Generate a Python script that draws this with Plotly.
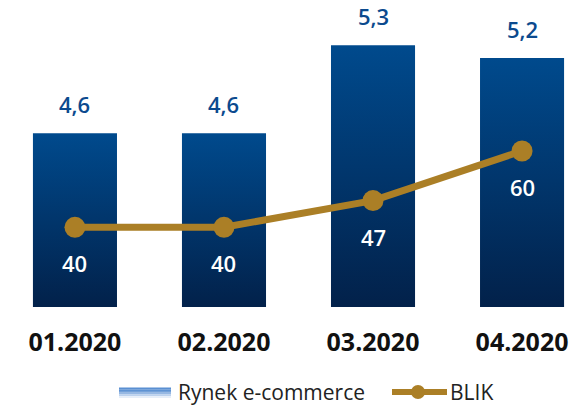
import plotly.graph_objects as go

categories = ["01.2020", "02.2020", "03.2020", "04.2020"]
ecommerce = [4.6, 4.6, 5.3, 5.2]
ecommerce_labels = ["4,6", "4,6", "5,3", "5,2"]
blik = [40, 40, 47, 60]

W, H = 583, 410
ML, MR, MT, MB = 0, 0, 0, 103
PW, PH = W - ML - MR, H - MT - MB

y1_range = [3.217, 5.661]
y2_range = [19.11, 99.58]
x_range = [-0.503, 3.409]
bar_w = 0.564

bar_top = "#004a8d"
bar_bottom = "#02214a"
gold = "#ab7f26"
label_blue = "#0b4a8e"
font_main = "Open Sans"


def px_x(p):
    return (p - ML) / PW


def px_y(p):
    return (H - MB - p) / PH


fig = go.Figure()

# bars as gradient-filled areas built from the data
for i, v in enumerate(ecommerce):
    b = y1_range[0]
    fig.add_trace(go.Scatter(
        x=[i - bar_w / 2, i + bar_w / 2, i + bar_w / 2, i - bar_w / 2, i - bar_w / 2],
        y=[b, b, v, v, b],
        mode="lines", line=dict(width=0), fill="toself",
        fillgradient=dict(type="vertical", colorscale=[[0, bar_bottom], [1, bar_top]]),
        showlegend=False, hoverinfo="skip", yaxis="y",
    ))

fig.add_trace(go.Scatter(
    x=list(range(len(categories))), y=blik, mode="lines+markers",
    line=dict(color=gold, width=7), marker=dict(size=21, color=gold),
    yaxis="y2", showlegend=False, name="BLIK",
))

annotations = []
for i, (v, t) in enumerate(zip(ecommerce, ecommerce_labels)):
    annotations.append(dict(x=i, y=v, xref="x", yref="y", text=t, showarrow=False,
                            yanchor="middle", yshift=29,
                            font=dict(family=font_main, size=22, color=label_blue, weight=600)))
for i, v in enumerate(blik):
    annotations.append(dict(x=i, y=v, xref="x", yref="y2", text=str(v), showarrow=False,
                            yanchor="middle", yshift=-36,
                            font=dict(family=font_main, size=22, color="white", weight=600)))

# legend (drawn manually)
ly = 392
annotations.append(dict(x=px_x(176), y=px_y(ly), xref="paper", yref="paper", text="Rynek e-commerce",
                        showarrow=False, xanchor="left", yanchor="middle",
                        font=dict(family=font_main, size=21, color="#222222")))
annotations.append(dict(x=px_x(448), y=px_y(ly), xref="paper", yref="paper", text="BLIK",
                        showarrow=False, xanchor="left", yanchor="middle",
                        font=dict(family=font_main, size=21, color="#222222")))

shapes = []
strip_cols = ["#5a8fd2", "#5f93d3", "#74a1d9", "#96b8e3", "#bcd2ee", "#e6eef9"]
top = 387.5
for k, c in enumerate(strip_cols):
    shapes.append(dict(type="rect", xref="paper", yref="paper",
                       x0=px_x(119), x1=px_x(171), y0=px_y(top + k * 1.75), y1=px_y(top + (k + 1) * 1.75),
                       fillcolor=c, line=dict(width=0), layer="above"))
shapes.append(dict(type="line", xref="paper", yref="paper", x0=px_x(392), x1=px_x(447),
                   y0=px_y(ly), y1=px_y(ly), line=dict(color=gold, width=6)))
shapes.append(dict(type="circle", xref="paper", yref="paper", x0=px_x(418 - 7), x1=px_x(418 + 7),
                   y0=px_y(ly - 7), y1=px_y(ly + 7), fillcolor=gold, line=dict(width=0)))

fig.update_layout(
    width=W, height=H, margin=dict(l=ML, r=MR, t=MT, b=MB),
    paper_bgcolor="white", plot_bgcolor="white", showlegend=False,
    xaxis=dict(range=x_range, tickvals=list(range(len(categories))), ticktext=categories,
               showgrid=False, zeroline=False, showline=False, ticks="",
               ticklabelstandoff=18,
               tickfont=dict(family=font_main, size=25, color="#111111", weight=700)),
    yaxis=dict(range=y1_range, visible=False, showgrid=False, zeroline=False),
    yaxis2=dict(range=y2_range, visible=False, overlaying="y", side="right",
                showgrid=False, zeroline=False),
    annotations=annotations, shapes=shapes,
)

fig.write_html("out.html", config={"displayModeBar": False},
               post_script="document.body.style.margin='0';document.body.style.overflow='hidden';")
